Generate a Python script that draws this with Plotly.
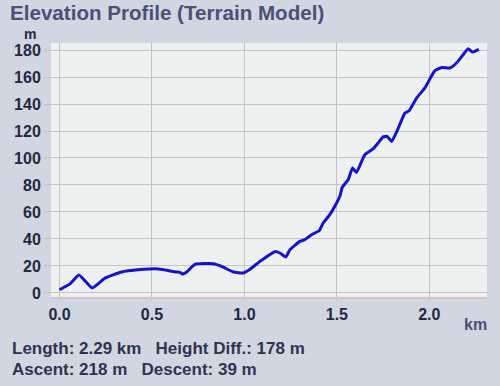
import plotly.graph_objects as go

distance_km = [0.0, 0.057, 0.105, 0.177, 0.246, 0.336, 0.435, 0.525, 0.58, 0.633, 0.651, 0.666,
               0.688, 0.732, 0.831, 0.877, 0.94, 0.994, 1.03, 1.084, 1.165, 1.192, 1.224, 1.246,
               1.3, 1.327, 1.363, 1.404, 1.426, 1.462, 1.489, 1.516, 1.53, 1.561, 1.585, 1.606,
               1.651, 1.696, 1.723, 1.75, 1.772, 1.796, 1.831, 1.868, 1.891, 1.931, 1.976, 2.03,
               2.066, 2.111, 2.147, 2.183, 2.21, 2.233, 2.268]
elevation_m = [2.4, 6.7, 13.3, 3.7, 11, 15.5, 17.3, 18, 16.8, 15.5, 15.3, 14,
               15.5, 21.2, 21.7, 19.7, 15.5, 14.8, 17.5, 23.4, 30.6, 29.6, 26.7, 32,
               38.2, 39.5, 43.2, 46.1, 51.8, 58, 64.2, 71.6, 78.5, 83.9, 92.6, 89.3,
               102.4, 106.7, 111.1, 115.6, 116, 112.3, 121.7, 133.3, 135, 144.4, 151.9, 164.7,
               167.1, 166.7, 170.4, 176.5, 181, 178.5, 180.5]

x_ticks = [0.0, 0.5, 1.0, 1.5, 2.0]
x_tick_labels = ["0.0", "0.5", "1.0", "1.5", "2.0"]
y_ticks = [0, 20, 40, 60, 80, 100, 120, 140, 160, 180]

title_text = "Elevation Profile (Terrain Model)"
stats_line1 = "Length: 2.29 km   Height Diff.: 178 m"
stats_line2 = "Ascent: 218 m   Descent: 39 m"

FONT = "Liberation Sans, Arial, sans-serif"
grid = "#cbc1c2"

fig = go.Figure()
fig.add_trace(go.Scatter(x=distance_km, y=elevation_m, mode="lines",
                         line=dict(color="#1414cc", width=3, shape="spline", smoothing=0.4),
                         hoverinfo="skip", showlegend=False))

fig.update_layout(
    width=500, height=386,
    margin=dict(l=51, r=13, t=43, b=89, autoexpand=False),
    paper_bgcolor="#d1d7e0",
    plot_bgcolor="#eef1f2",
    font=dict(family=FONT, size=16, color="#1f2942"),
    title=dict(text="<b>" + title_text + "</b>", x=0.02, xanchor="left",
               y=0.966, yanchor="middle",
               font=dict(family=FONT, size=20.6, color="#4b5079")),
    xaxis=dict(range=[-0.046, 2.312], tickvals=x_ticks, ticktext=["<b>%s</b>" % t for t in x_tick_labels],
               showgrid=True, gridcolor=grid, gridwidth=1, zeroline=False, automargin=False,
               ticks="outside", ticklen=2, tickcolor=grid,
               showline=True, linecolor="#d6c3c8", linewidth=2,
               tickfont=dict(family=FONT, size=16, color="#1f2942"), fixedrange=True),
    yaxis=dict(range=[-3, 185.2], tickvals=y_ticks, ticktext=["<b>%d</b>" % v for v in y_ticks],
               showgrid=True, gridcolor=grid, gridwidth=1, zeroline=False, automargin=False,
               ticks="outside", ticklen=6, tickcolor=grid,
               showline=False,
               tickfont=dict(family=FONT, size=16, color="#1f2942"), fixedrange=True),
    annotations=[
        dict(text="<b>m</b>", x=-0.048, y=1.0335, xref="paper", yref="paper", showarrow=False,
             xanchor="center", yanchor="middle",
             font=dict(family=FONT, size=14, color="#1f2942")),
        dict(text="<b>km</b>", x=0.9725, xanchor="center", xref="paper", y=-0.11, yref="paper",
             yanchor="middle", showarrow=False, font=dict(family=FONT, size=16, color="#4b5079")),
        dict(text="<b>" + stats_line1 + "</b>", x=-0.094, xanchor="left", xref="paper",
             y=-0.2008, yref="paper", yanchor="middle", showarrow=False,
             font=dict(family=FONT, size=17, color="#2d3450")),
        dict(text="<b>" + stats_line2 + "</b>", x=-0.094, xanchor="left", xref="paper",
             y=-0.287, yref="paper", yanchor="middle", showarrow=False,
             font=dict(family=FONT, size=17, color="#2d3450")),
    ],
)

fig.write_html("out.html", config={"displayModeBar": False},
               post_script="document.body.style.margin='0';document.body.style.background='#d1d7e0';")
